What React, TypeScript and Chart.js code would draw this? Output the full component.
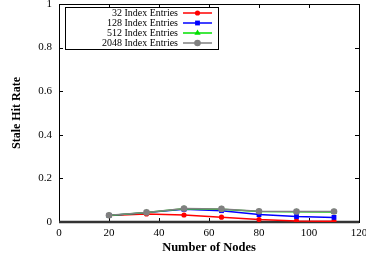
import React, { useEffect, useRef } from "react";
import { Chart, registerables } from "chart.js";

Chart.register(...registerables);

const nodes = [20, 35, 50, 65, 80, 95, 110];
const seriesNames = ["32 Index Entries", "128 Index Entries", "512 Index Entries", "2048 Index Entries"];
const s32 = [0.03, 0.037, 0.032, 0.022, 0.011, 0.005, 0.003];
const s128 = [0.03, 0.043, 0.058, 0.052, 0.034, 0.025, 0.021];
const s512 = [0.03, 0.044, 0.061, 0.059, 0.048, 0.047, 0.046];
const s2048 = [0.031, 0.044, 0.062, 0.06, 0.049, 0.048, 0.048];
const xTicks = [0, 20, 40, 60, 80, 100, 120];
const yTicks = [0, 0.2, 0.4, 0.6, 0.8, 1];
const yTickLabels = ["0", "0.2", "0.4", "0.6", "0.8", "1"];
const xTitle = "Number of Nodes";
const yTitle = "Stale Hit Rate";

const colors = ["#ff0000", "#0000ff", "#00e000", "#808080"];
const styles = ["circle", "rect", "triangle", "circle"];
const radii = [2.6, 3.4, 3.6, 3.3];
const FONT = "'Liberation Serif', 'Times New Roman', serif";

function drawMarker(ctx: CanvasRenderingContext2D, style: string, x: number, y: number, r: number, color: string) {
  ctx.save();
  ctx.fillStyle = color;
  ctx.beginPath();
  if (style === "circle") {
    ctx.arc(x, y, r, 0, Math.PI * 2);
  } else if (style === "rect") {
    const s = Math.SQRT1_2 * r;
    ctx.rect(x - s, y - s, 2 * s, 2 * s);
  } else {
    const h = r * 1.5;
    ctx.moveTo(x, y - r);
    ctx.lineTo(x + h / Math.sqrt(3), y + r / 2);
    ctx.lineTo(x - h / Math.sqrt(3), y + r / 2);
    ctx.closePath();
  }
  ctx.fill();
  ctx.restore();
}

const framePlugin = {
  id: "frame",
  beforeDatasetsDraw(chart: any) {
    const { ctx, chartArea: a, scales } = chart;
    ctx.save();
    ctx.strokeStyle = "#000";
    ctx.lineWidth = 1;
    ctx.strokeRect(Math.round(a.left) + 0.5, Math.round(a.top) + 0.5, Math.round(a.right - a.left), Math.round(a.bottom - a.top));
    ctx.beginPath();
    xTicks.forEach((v) => {
      if (v === xTicks[0] || v === xTicks[xTicks.length - 1]) return;
      const px = Math.round(scales.x.getPixelForValue(v)) + 0.5;
      ctx.moveTo(px, a.bottom);
      ctx.lineTo(px, a.bottom - 4);
      ctx.moveTo(px, a.top);
      ctx.lineTo(px, a.top + 4);
    });
    yTicks.forEach((v) => {
      if (v === yTicks[0] || v === yTicks[yTicks.length - 1]) return;
      const py = Math.round(scales.y.getPixelForValue(v)) + 0.5;
      ctx.moveTo(a.left, py);
      ctx.lineTo(a.left + 4, py);
      ctx.moveTo(a.right, py);
      ctx.lineTo(a.right - 4, py);
    });
    ctx.stroke();
    ctx.strokeStyle = "#333";
    ctx.lineWidth = 2.5;
    ctx.beginPath();
    ctx.moveTo(a.left, a.bottom);
    ctx.lineTo(a.right, a.bottom);
    ctx.stroke();
    ctx.fillStyle = "#000";
    ctx.textAlign = "center";
    ctx.textBaseline = "middle";
    ctx.font = "bold 12.5px " + FONT;
    ctx.fillText(xTitle, (a.left + a.right) / 2, 248);
    ctx.font = "bold 12px " + FONT;
    ctx.translate(17, (a.top + a.bottom) / 2);
    ctx.rotate(-Math.PI / 2);
    ctx.fillText(yTitle, 0, 0);
    ctx.restore();
  },
  afterDraw(chart: any) {
    const { ctx } = chart;
    ctx.save();
    ctx.fillStyle = "#fff";
    ctx.fillRect(65, 7, 153, 42);
    ctx.strokeStyle = "#000";
    ctx.lineWidth = 1;
    ctx.strokeRect(65.5, 7.5, 153, 42);
    ctx.font = "10px " + FONT;
    ctx.textAlign = "right";
    ctx.textBaseline = "middle";
    seriesNames.forEach((name, i) => {
      const y = 13 + i * 10;
      ctx.fillStyle = "#000";
      ctx.fillText(name, 178, y);
      ctx.strokeStyle = colors[i];
      ctx.lineWidth = 1.5;
      ctx.beginPath();
      ctx.moveTo(183, y);
      ctx.lineTo(212, y);
      ctx.stroke();
      drawMarker(ctx, styles[i], 197.5, y, radii[i], colors[i]);
    });
    ctx.restore();
  },
};

export default function App() {
  const ref = useRef<HTMLCanvasElement | null>(null);
  useEffect(() => {
    document.body.style.margin = "0";
    document.body.style.overflow = "hidden";
    const canvas = ref.current!;
    const all = [s32, s128, s512, s2048];
    const chart = new Chart(canvas, {
      type: "line",
      data: {
        datasets: all.map((vals, i) => ({
          label: seriesNames[i],
          data: nodes.map((x, j) => ({ x, y: vals[j] })),
          borderColor: colors[i],
          backgroundColor: colors[i],
          borderWidth: 1.5,
          pointStyle: styles[i] as any,
          pointRadius: radii[i],
          pointBorderWidth: 0,
          tension: 0,
          fill: false,
          order: 3 - i,
        })),
      },
      options: {
        responsive: false,
        animation: false,
        devicePixelRatio: 1,
        layout: { padding: { top: 4, right: 21, left: 0, bottom: 0 } },
        plugins: { legend: { display: false }, tooltip: { enabled: false } },
        scales: {
          x: {
            type: "linear",
            min: 0,
            max: 120,
            afterBuildTicks: (s: any) => {
              s.ticks = xTicks.map((v) => ({ value: v }));
            },
            ticks: {
              color: "#000",
              font: { family: FONT, size: 11 },
              padding: 5,
              maxRotation: 0,
              autoSkip: false,
              callback: (v: any) => String(v),
            },
            grid: { display: false, drawTicks: false },
            border: { display: false },
            afterFit: (s: any) => {
              s.height = 35;
              s.paddingLeft = 0;
              s.paddingRight = 0;
            },
          },
          y: {
            type: "linear",
            min: 0,
            max: 1,
            afterBuildTicks: (s: any) => {
              s.ticks = yTicks.map((v) => ({ value: v }));
            },
            ticks: {
              color: "#000",
              font: { family: FONT, size: 11 },
              padding: 7,
              autoSkip: false,
              callback: (v: any) => {
                const idx = yTicks.findIndex((t) => Math.abs(t - v) < 1e-9);
                return idx >= 0 ? yTickLabels[idx] : "";
              },
            },
            grid: { display: false, drawTicks: false },
            border: { display: false },
            afterFit: (s: any) => {
              s.width = 59;
              s.paddingTop = 0;
              s.paddingBottom = 0;
            },
          },
        },
      },
      plugins: [framePlugin],
    });
    return () => chart.destroy();
  }, []);
  return (
    <div style={{ position: "fixed", left: 0, top: 0, width: 380, height: 257, background: "#fff" }}>
      <canvas ref={ref} width={380} height={257} style={{ width: 380, height: 257 }} />
    </div>
  );
}
